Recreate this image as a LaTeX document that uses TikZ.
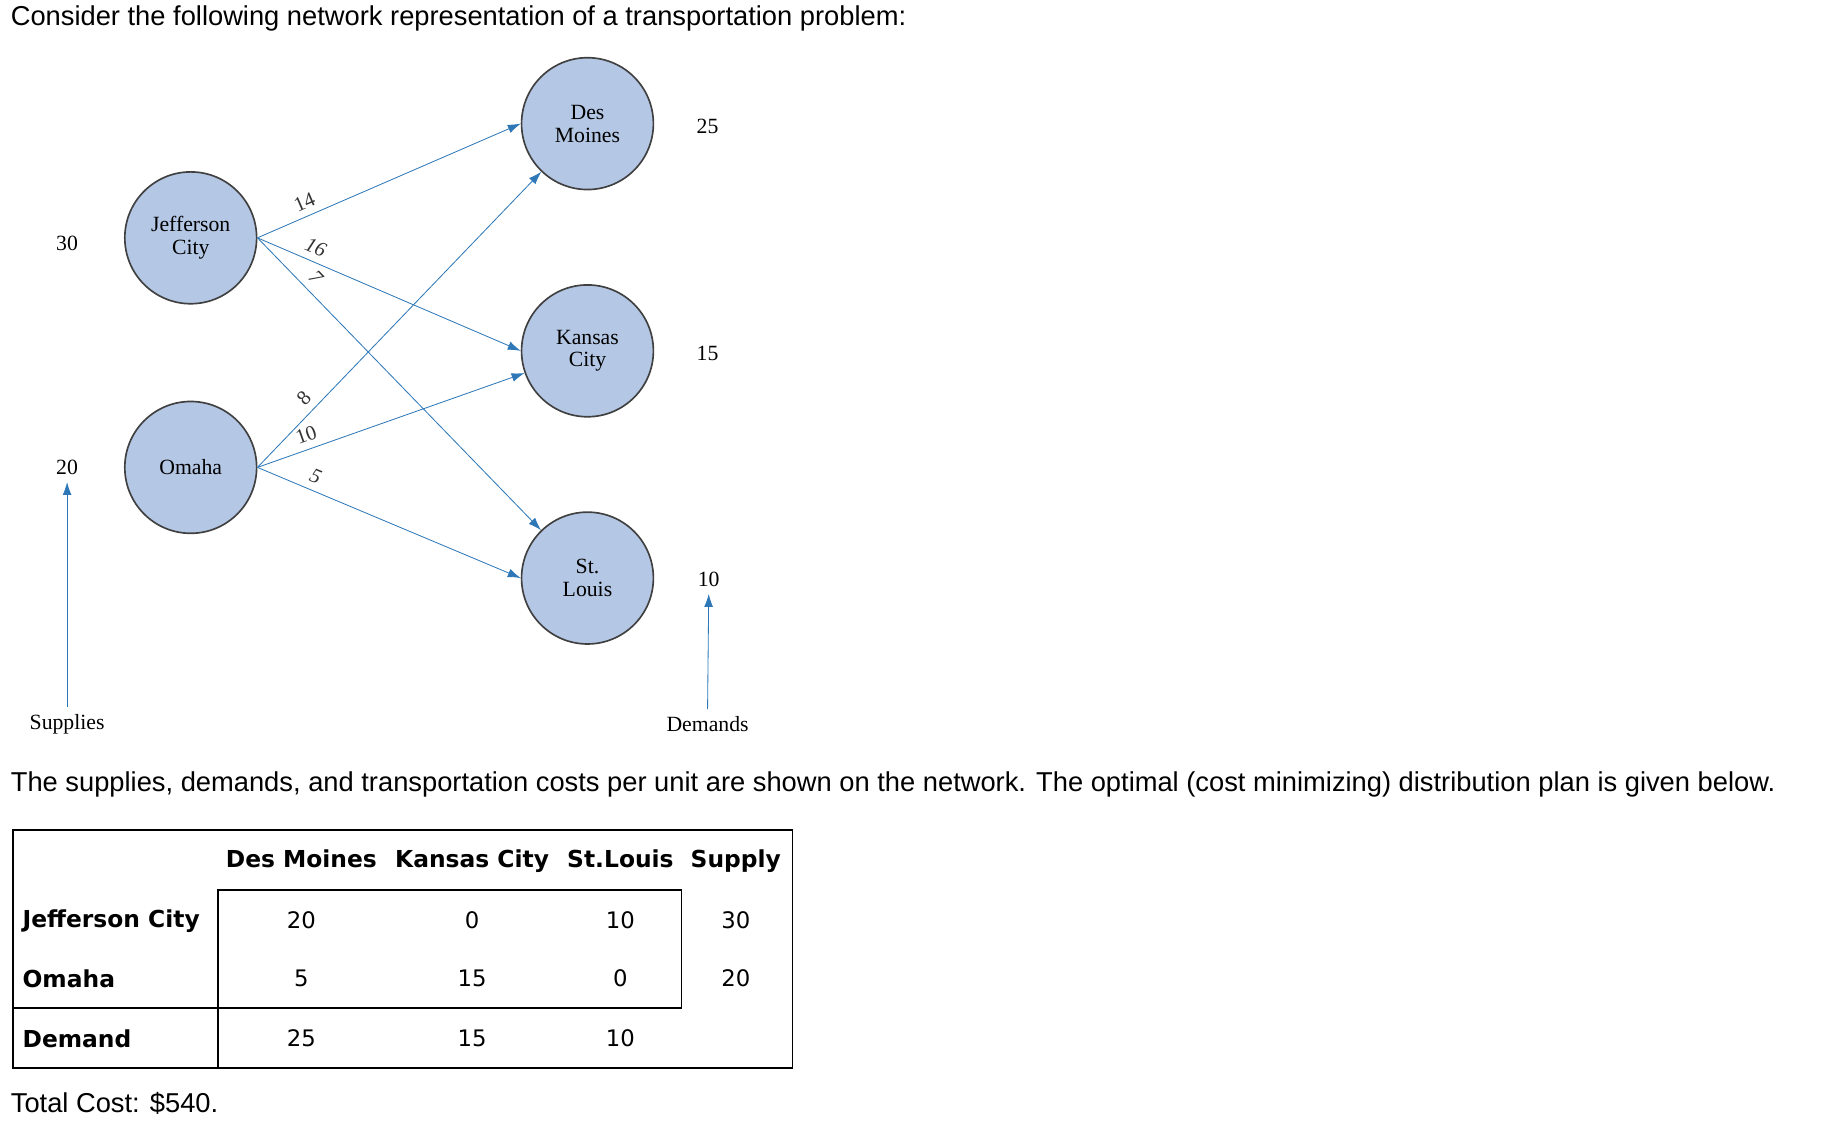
\documentclass[tikz,border=0pt]{standalone}
\usepackage{fontspec}
\setmainfont{Liberation Serif}
\setsansfont{Liberation Sans}
\newfontfamily\tabfont{DejaVu Sans}
\usepackage{xcolor}
\usetikzlibrary{positioning,arrows.meta}
\definecolor{nodeblue}{HTML}{B4C7E4}
\definecolor{edgeblue}{HTML}{2E78B8}

\begin{document}
\begin{tikzpicture}[
            x=0.02cm, y=-0.02cm,
            city/.style={draw=black!75, circle, fill=nodeblue, minimum size=2.24cm, inner sep=0pt, align=center, font=\fontsize{10.5}{11}\selectfont, thick},
            flow/.style={-{Latex[length=2.2mm,width=1.5mm]}, edgeblue, thin},
            cost/.style={font=\fontsize{10}{10}\selectfont, text=black!80, sloped, above, pos=0.2},
            num/.style={font=\fontsize{10.5}{10}\selectfont},
            txt/.style={font=\sffamily\fontsize{13.2}{15}\selectfont, anchor=west},
            cell/.style={font=\tabfont\fontsize{11}{13}\selectfont},
            hcell/.style={font=\tabfont\bfseries\fontsize{11.3}{13}\selectfont}
        ]
            \useasboundingbox[fill=white] (0,0) rectangle (1568,958);

            % --- heading ---
            \node[txt] (intro) at (3,16) {Consider the following network representation of a transportation problem:};

            % --- NETWORK ---
            \node[city] (jc) at (162,202) {Jefferson\\City};
            \node[city] (om) at (162,397) {Omaha};
            \node[city] (dm) at (499,105) {Des\\Moines};
            \node[city] (kc) at (499,298) {Kansas\\City};
            \node[city] (sl) at (499,491) {St.\\Louis};

            \draw[flow] (jc.east) -- node[cost] {14} (dm.west);
            \draw[flow] (jc.east) -- node[cost] {\itshape 16} (kc.west);
            \draw[flow] (jc.east) -- node[cost, pos=0.17] {\itshape 7} (sl);
            \draw[flow] (om.east) -- node[cost, pos=0.2] {8} (dm);
            \draw[flow] (om.east) -- node[cost] {10} (kc);
            \draw[flow] (om.east) -- node[cost] {\itshape 5} (sl.west);

            % supplies and demands
            \node[num] (s1) at (57,207) {30};
            \node[num] (s2) at (57,397) {20};
            \node[num] (d1) at (601,107) {25};
            \node[num] (d2) at (601,300) {15};
            \node[num] (d3) at (602,492) {10};
            \node[num] (sup) at (57,615) {Supplies};
            \node[num] (dem) at (601,615) {Demands};
            \draw[flow] (sup.north) -- (s2.south);
            \draw[flow] (dem.north) -- (d3.south);

            \node[txt] (plan) at (3,666) {The supplies, demands, and transportation costs per unit are shown on the network. The optimal (cost minimizing) distribution plan is given below.};

            % --- TABLE ---
            \draw[thick] (11,705) rectangle (673,907);
            \draw[thick] (185,907) -- (185,756) -- (579,756) -- (579,856) -- (11,856);
            \foreach \x/\h in {256/Des Moines, 401/Kansas City, 527/St.Louis, 625/Supply}
                \node[hcell, anchor=base] at (\x,737) {\h};
            \foreach \y/\r in {782/Jefferson City, 831/Omaha, 882/Demand}
                \node[hcell, anchor=west] at (13,\y) {\r};
            \foreach \y/\a/\b/\c/\d in {782/20/0/10/30, 831/5/15/0/20, 882/25/15/10/}{
                \node[cell] at (256,\y) {\a};
                \node[cell] at (401,\y) {\b};
                \node[cell] at (527,\y) {\c};
                \node[cell] at (625,\y) {\d};
            }

            \node[txt] (total) at (3,937) {Total Cost: \$540.};
        \end{tikzpicture}
\end{document}
